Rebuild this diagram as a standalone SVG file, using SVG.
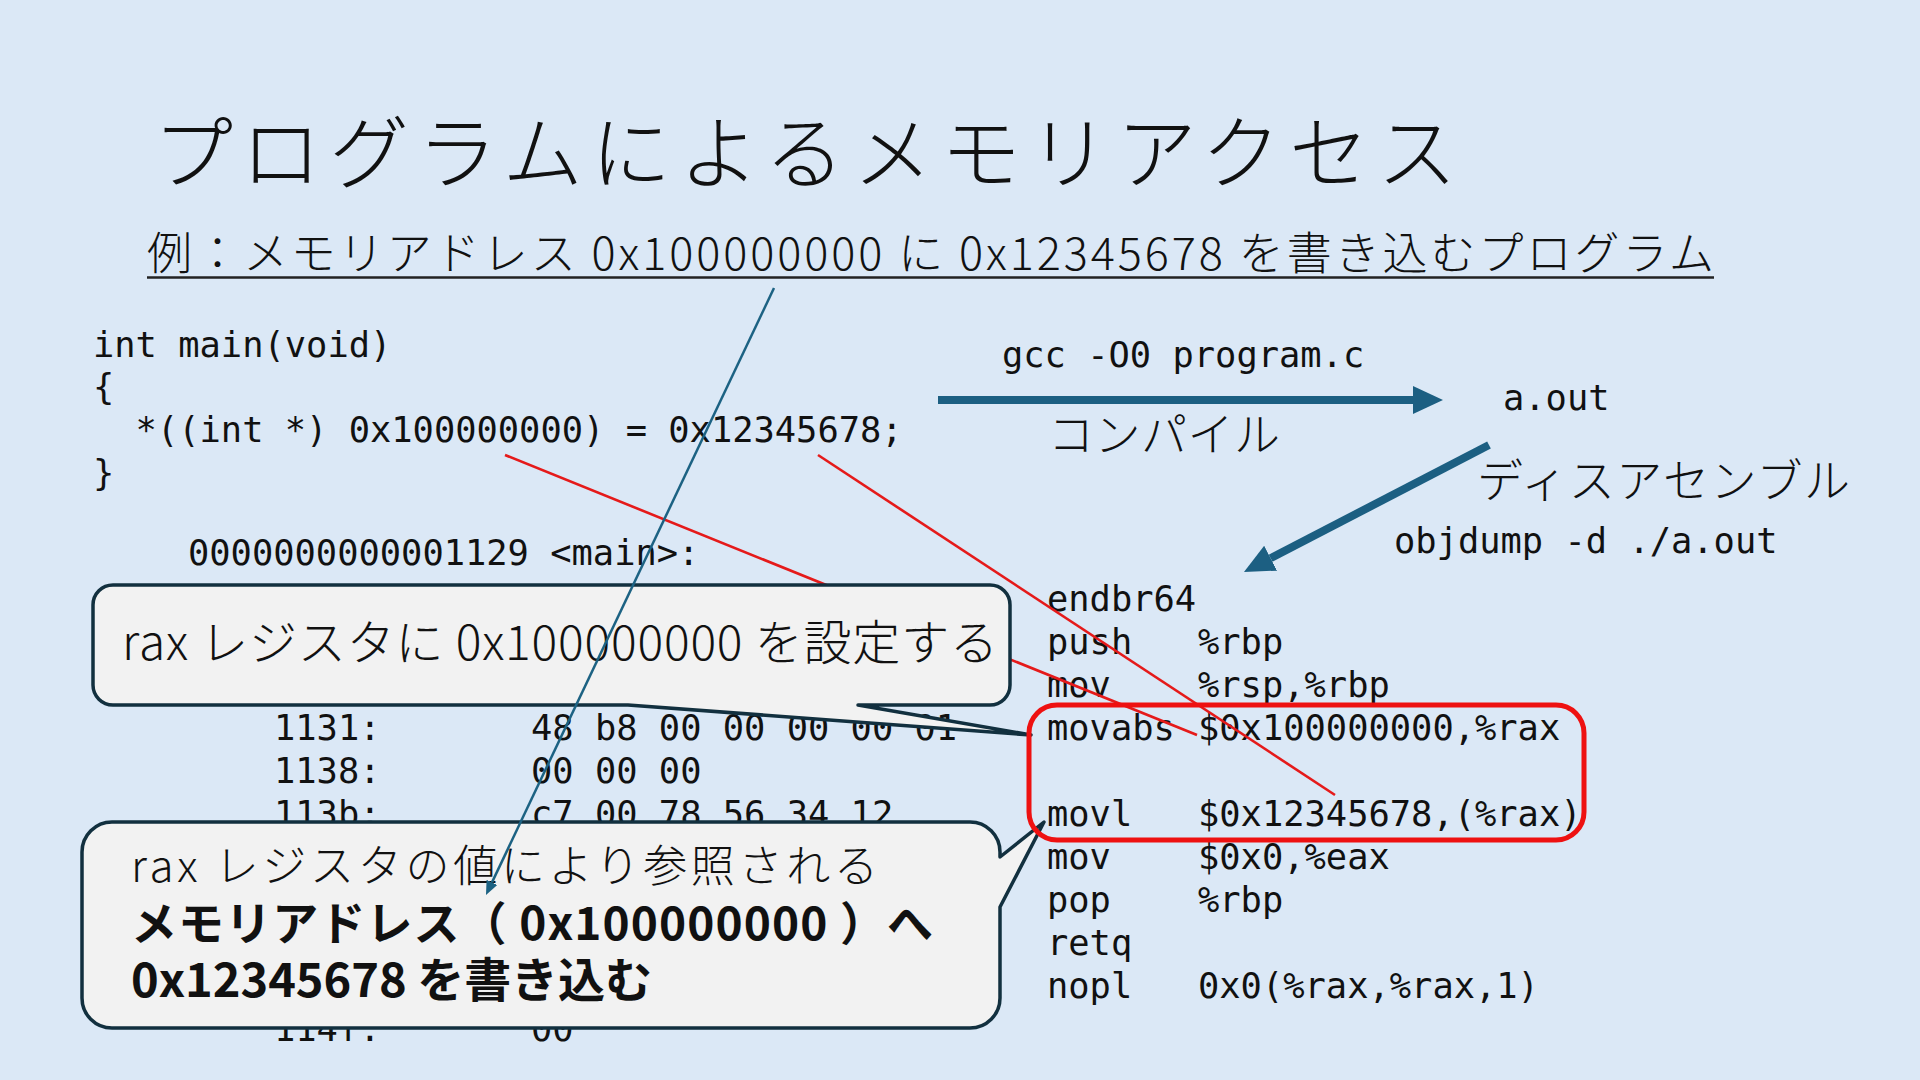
<svg xmlns="http://www.w3.org/2000/svg" width="1920" height="1080" viewBox="0 0 1920 1080">
<defs>
<style>
.bg{fill:#dbe8f6}
.jp{font-family:"Noto Sans CJK JP","Noto Sans",sans-serif;fill:#111;font-weight:300}
.jpb{font-family:"Noto Sans CJK JP","Noto Sans",sans-serif;fill:#111;font-weight:700}
.mono{font-family:"DejaVu Sans Mono","Liberation Mono",monospace;font-size:35.4px;fill:#111}
.red{stroke:#e51a1a;stroke-width:2.6;fill:none}
.callout{fill:#f2f2f2;stroke:#12303f;stroke-width:3.5;stroke-linejoin:round}
.thick{stroke:#1c5f82;stroke-width:8;fill:none}
.thin{stroke:#1c6283;stroke-width:2.5;fill:none}
</style>
<marker id="headThick" markerUnits="userSpaceOnUse" markerWidth="30" markerHeight="28" viewBox="0 0 30 28" refX="0" refY="14" orient="auto">
<path d="M0,0 L30,14 L0,28 Z" fill="#1c5f82"/>
</marker>
<marker id="headThin" markerUnits="userSpaceOnUse" markerWidth="14" markerHeight="12" viewBox="0 0 14 12" refX="0" refY="6" orient="auto">
<path d="M0,0 L14,6 L0,12 Z" fill="#1c6283"/>
</marker>
</defs>
<rect class="bg" x="0" y="0" width="1920" height="1080"/>

<g id="title">
<text class="jp" x="153" y="182" font-size="80" textLength="1304">プログラムによるメモリアクセス</text>
</g>
<g id="subtitle">
<text class="jp" x="147" y="270" font-size="45" textLength="1567">例：メモリアドレス 0x100000000 に 0x12345678 を書き込むプログラム</text>
<line x1="147" y1="277.5" x2="1714" y2="277.5" stroke="#222" stroke-width="2.5"/>
</g>

<g id="source-code" class="mono">
<text x="93" y="357">int main(void)</text>
<text x="93" y="399">{</text>
<text x="135.6" y="442">*((int *) 0x100000000) = 0x12345678;</text>
<text x="93" y="485">}</text>
</g>

<g id="compile-labels">
<text class="mono" x="1002" y="367">gcc -O0 program.c</text>
<text class="mono" x="1503" y="410">a.out</text>
<text class="jp" x="1048" y="451" font-size="46" textLength="232">コンパイル</text>
<text class="jp" x="1477" y="497" font-size="46" textLength="373">ディスアセンブル</text>
<text class="mono" x="1394" y="553">objdump -d ./a.out</text>
</g>

<g id="disassembly-hex" class="mono">
<text x="188" y="565">0000000000001129 &lt;main&gt;:</text>
<text x="274" y="740">1131:</text><text x="531" y="740">48 b8 00 00 00 00 01</text>
<text x="274" y="783">1138:</text><text x="531" y="783">00 00 00</text>
<text x="274" y="826">113b:</text><text x="531" y="826">c7 00 78 56 34 12</text>
<text x="274" y="1041">114f:</text><text x="531" y="1041">00</text>
</g>

<g id="disassembly-asm" class="mono">
<text x="1047" y="611">endbr64</text>
<text x="1047" y="654">push</text><text x="1198" y="654">%rbp</text>
<text x="1047" y="697">mov</text><text x="1198" y="697">%rsp,%rbp</text>
<text x="1047" y="740">movabs</text><text x="1198" y="740">$0x100000000,%rax</text>
<text x="1047" y="826">movl</text><text x="1198" y="826">$0x12345678,(%rax)</text>
<text x="1047" y="869">mov</text><text x="1198" y="869">$0x0,%eax</text>
<text x="1047" y="912">pop</text><text x="1198" y="912">%rbp</text>
<text x="1047" y="955">retq</text>
<text x="1047" y="998">nopl</text><text x="1198" y="998">0x0(%rax,%rax,1)</text>
</g>

<g id="red-links">
<line class="red" x1="505" y1="455" x2="1197" y2="735"/>
<line class="red" x1="818" y1="455" x2="1335" y2="795"/>
</g>

<g id="callout-1">
<path class="callout" d="M113,585 H990 A20,20 0 0 1 1010,605 V685 A20,20 0 0 1 990,705 H858 L1031,735 L628,705 H113 A20,20 0 0 1 93,685 V605 A20,20 0 0 1 113,585 Z"/>
<text class="jp" x="122" y="660" font-size="48" textLength="876">rax レジスタに 0x100000000 を設定する</text>
</g>

<g id="callout-2">
<path class="callout" d="M112,822 H970 A30,30 0 0 1 1000,852 V857 L1044,822 L1000,907 V998 A30,30 0 0 1 970,1028 H112 A30,30 0 0 1 82,998 V852 A30,30 0 0 1 112,822 Z"/>
<text class="jp" x="131" y="882" font-size="44" textLength="747">rax レジスタの値により参照される</text>
<text class="jpb" x="131" y="940" font-size="46" textLength="802">メモリアドレス（ 0x100000000 ）へ</text>
<text class="jpb" x="131" y="997" font-size="47" textLength="521">0x12345678 を書き込む</text>
</g>

<g id="highlight">
<rect x="1029" y="705" width="555" height="135" rx="28" ry="28" fill="none" stroke="#ee1111" stroke-width="5"/>
</g>

<g id="connectors">
<line class="thick" x1="938" y1="400" x2="1413" y2="400" marker-end="url(#headThick)"/>
<line class="thick" x1="1489" y1="445" x2="1270.6" y2="558.2" marker-end="url(#headThick)"/>
<line class="thin" x1="774" y1="288" x2="492" y2="882.4" marker-end="url(#headThin)"/>
</g>
</svg>
